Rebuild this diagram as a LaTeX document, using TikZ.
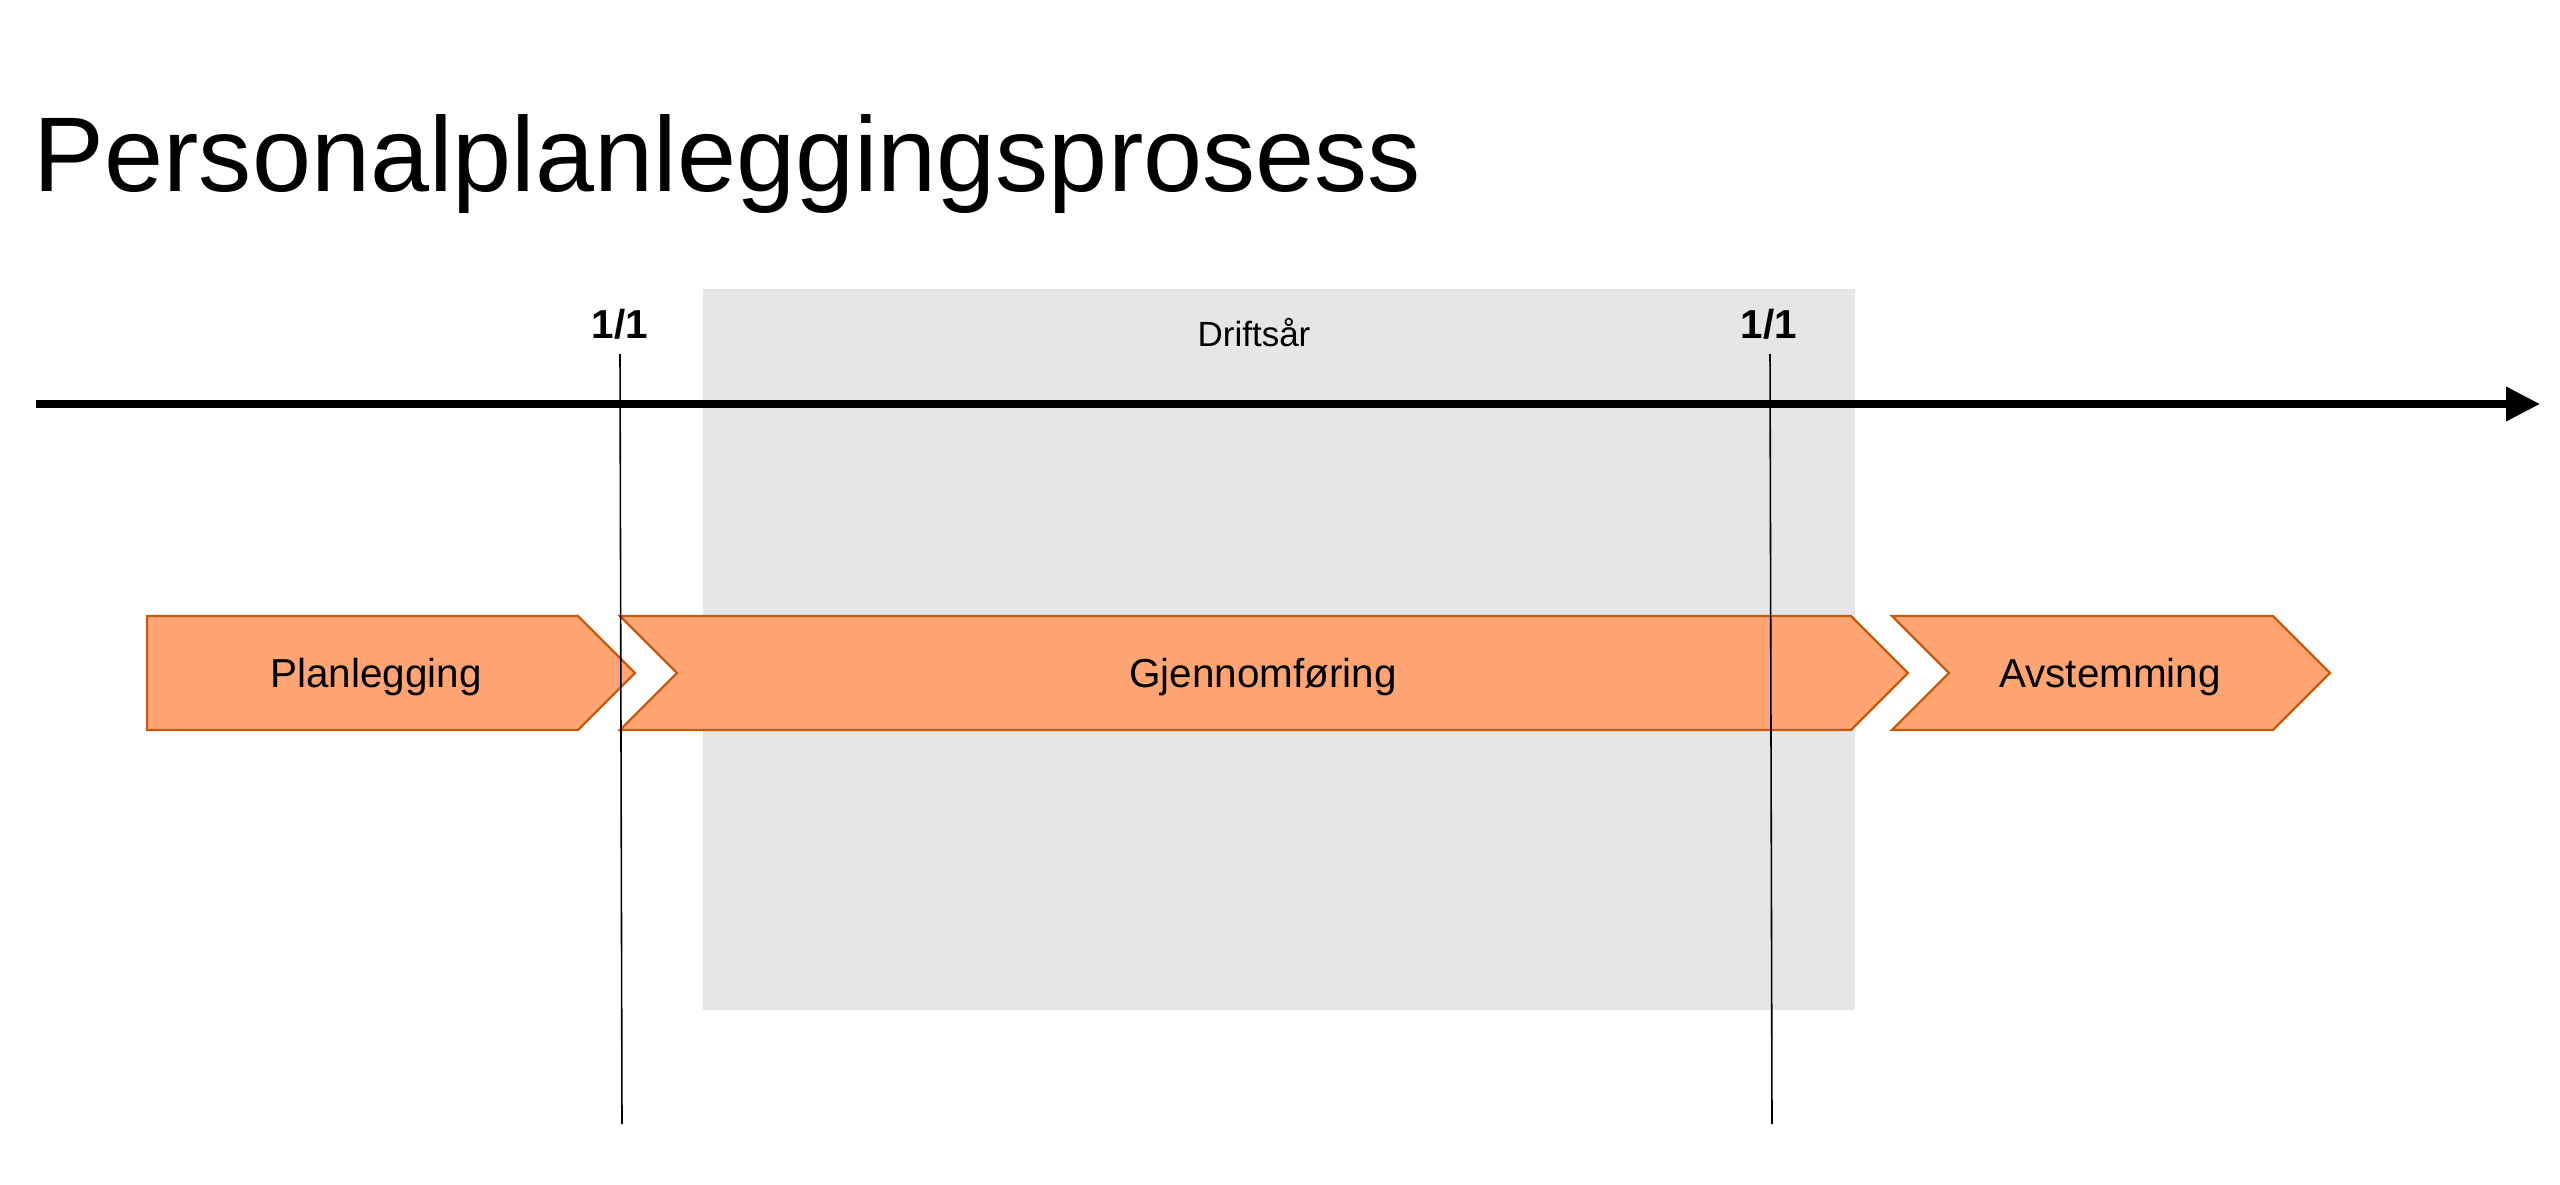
\documentclass[tikz,border=0pt]{standalone}
\usepackage{fontspec}
\setmainfont{Liberation Sans}
\usetikzlibrary{arrows.meta}
\definecolor{chevfill}{RGB}{255,165,115}
\definecolor{chevline}{RGB}{197,90,17}
\definecolor{bandgray}{RGB}{231,230,230}
\tikzset{
  chev/.style={fill=chevfill,draw=chevline,line width=0.65pt,line join=miter},
  lbl/.style={inner sep=0pt,anchor=base,font=\fontsize{11.5pt}{13pt}\selectfont},
  datelbl/.style={inner sep=0pt,anchor=base,font=\fontsize{11.5pt}{13pt}\selectfont\bfseries},
  marker/.style={draw=black,line width=0.45pt},
  axis/.style={line width=2pt,-{Triangle[length=3.4mm,width=3.3mm]}}
}
\begin{document}
\begin{tikzpicture}[x=0.01cm,y=-0.01cm]
\useasboundingbox (0,0) rectangle (2560,1185);
% title
\node[inner sep=0pt,anchor=base west,font=\fontsize{30.2pt}{36pt}\selectfont] (title) at (33,192) {Personalplanleggingsprosess};
% operating year band
\fill[bandgray] (703,289) rectangle (1855,1010);
\node[inner sep=0pt,anchor=base,font=\fontsize{9.95pt}{12pt}\selectfont] (drift) at (1254,347) {Driftsår};
% chevrons
\draw[chev] (147,616) -- (578,616) -- (635,673) -- (578,730) -- (147,730) -- cycle;
\draw[chev] (620,616) -- (1851,616) -- (1908,673) -- (1851,730) -- (620,730) -- (677,673) -- cycle;
\draw[chev] (1892,616) -- (2273,616) -- (2330,673) -- (2273,730) -- (1892,730) -- (1949,673) -- cycle;
\node[lbl] (plan) at (376,687) {Planlegging};
\node[lbl] (gjen) at (1263,687) {Gjennomføring};
\node[lbl] (avst) at (2110,687) {Avstemming};
% timeline
\coordinate (tstart) at (36,404);
\coordinate (tend) at (2540,404);
\draw[axis] (tstart) -- (tend);
% year markers
\coordinate (m1top) at (620,354);
\coordinate (m1bot) at (622,1124);
\coordinate (m2top) at (1770,354);
\coordinate (m2bot) at (1772,1124);
\draw[marker] (m1top) -- (m1bot);
\draw[marker] (m2top) -- (m2bot);
\node[datelbl] (d1) at (620,338) {1/1};
\node[datelbl] (d2) at (1769,338) {1/1};
\end{tikzpicture}
\end{document}
